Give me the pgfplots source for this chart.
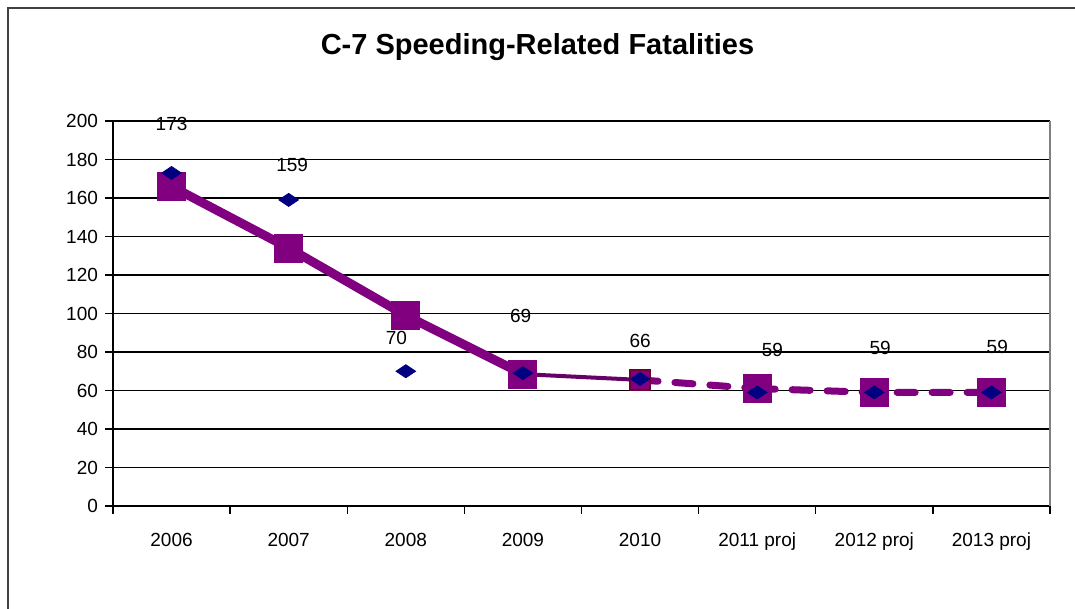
\documentclass[border=0pt]{standalone}
\usepackage{pgfplots}
\pgfplotsset{compat=1.18}
\usepackage{fontspec}
\setmainfont{Liberation Sans}
\definecolor{plum}{HTML}{800080}
\definecolor{navyd}{HTML}{000080}
\begin{document}
\begin{tikzpicture}
\useasboundingbox (0,0) rectangle (537.5pt,304.5pt);
\draw[black!75, line width=1pt] (4pt,0) -- (4pt,300.5pt) -- (537.5pt,300.5pt);
\node[font=\bfseries\fontsize{14.5}{16}\selectfont] at (268.75pt,281pt) {C-7 Speeding-Related Fatalities};
\begin{axis}[
    at={(56.5pt,51.5pt)}, anchor=south west,
    scale only axis, width=468.5pt, height=192.5pt,
    xmin=-0.5, xmax=7.5, ymin=0, ymax=200,
    axis lines*=left,
    axis line style={black, line width=0.7pt},
    clip=false,
    xtick={0,...,7},
    xticklabels={2006,2007,2008,2009,2010,2011 proj,2012 proj,2013 proj},
    minor xtick={-0.5,0.5,...,7.5},
    major x tick style={draw=none},
    ytick={0,20,...,200},
    tick align=outside,
    major tick length=4pt, minor tick length=4pt,
    tick style={black, line width=0.7pt},
    ymajorgrids,
    grid style={black, line width=0.6pt},
    tick label style={font=\fontsize{9.5}{11}\selectfont},
    /pgf/number format/assume math mode=true,
    xticklabel style={yshift=-6pt},
]
\draw[black!50, line width=0.7pt] (rel axis cs:1,0) -- (rel axis cs:1,1);
% trend line (actual)
\addplot[plum, line width=4.5pt, mark=square*, mark size=7pt, mark options={solid, line width=0pt}]
  coordinates {(0,166) (1,134) (2,99) (3,68.5)};
\addplot[plum!80!black, line width=2pt]
  coordinates {(3,68.5) (4,65.5)};
% projection
\addplot[plum, line width=3.5pt, line cap=round, dash pattern=on 9pt off 8.5pt, mark=square*, mark size=7pt, mark options={solid, line width=0pt}]
  coordinates {(5,61) (6,59) (7,59)};
\addplot[plum, line width=3.5pt, line cap=round, dash pattern=on 9pt off 8.5pt]
  coordinates {(4,65.5) (5,61)};
\addplot[only marks, mark=square*, mark size=5pt, mark options={fill=plum, draw=black!60!red!60!plum, line width=0.8pt}]
  coordinates {(4,65.5)};
% actual values
\addplot[only marks, mark=diamond*, mark size=6.5pt, mark options={fill=navyd, draw=navyd, yscale=0.5}]
  coordinates {(0,173) (1,159) (2,70) (3,69) (4,66) (5,59) (6,59) (7,59)};
% data labels
\addplot[only marks, mark=none, point meta=explicit symbolic,
    nodes near coords, nodes near coords style={anchor=center, font=\fontsize{9.5}{11}\selectfont, text=black}]
  table[meta=lab] {
x y lab
0 198.4 173
1.03 177.1 159
1.92 87.3 70
2.98 98.7 69
4.0 85.7 66
5.13 81 59
6.05 82 59
7.05 82.6 59
};
\end{axis}
\end{tikzpicture}
\end{document}
